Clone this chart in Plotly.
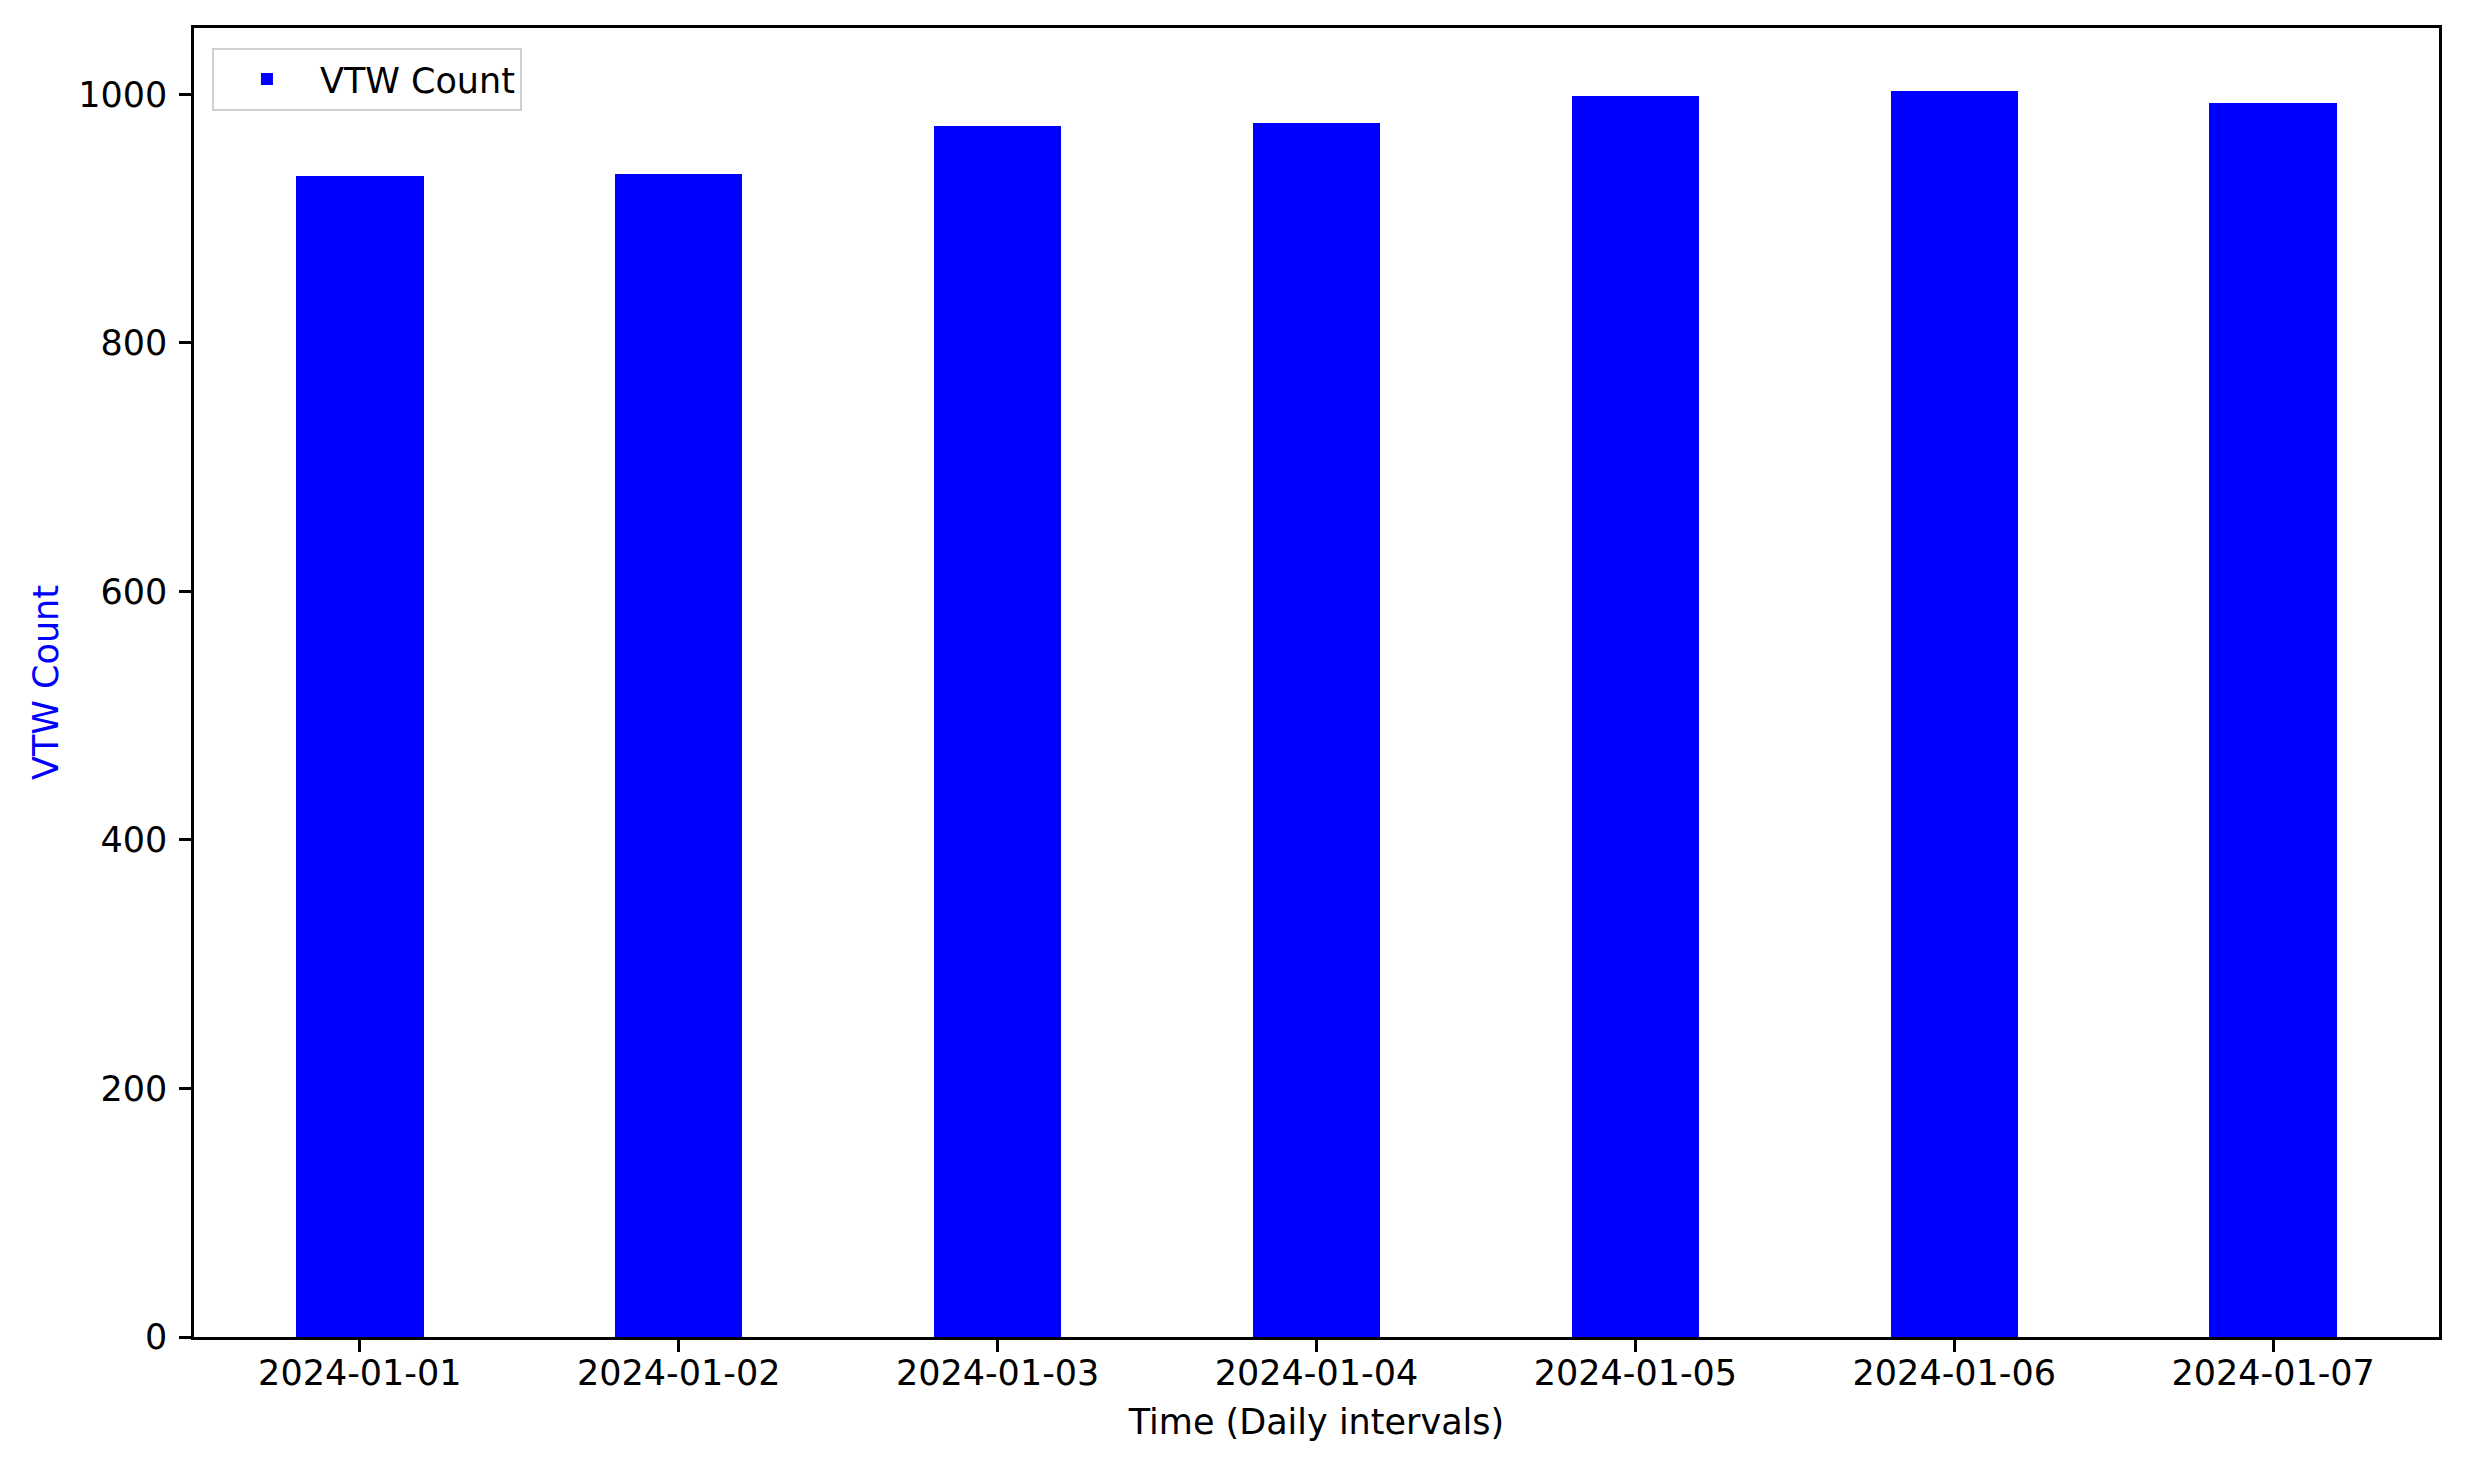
import plotly.graph_objects as go

dates = ["2024-01-01", "2024-01-02", "2024-01-03", "2024-01-04",
         "2024-01-05", "2024-01-06", "2024-01-07"]
vtw_count = [934, 936, 975, 977, 999, 1003, 993]
y_ticks = [0, 200, 400, 600, 800, 1000]

FONT = "DejaVu Sans"
FS = 35

fig = go.Figure()
fig.add_trace(go.Bar(
    x=dates, y=vtw_count, name="VTW Count",
    marker=dict(color="#0000ff", line=dict(width=0)),
    width=0.4, showlegend=True,
))

fig.update_layout(
    width=2472, height=1468,
    margin=dict(l=186, r=41, t=20, b=139),
    paper_bgcolor="white", plot_bgcolor="white",
    font=dict(family=FONT, size=FS, color="black"),
    showlegend=True,
    legend=dict(
        x=0.008, y=0.985, xanchor="left", yanchor="top",
        bgcolor="rgba(255,255,255,0.8)", bordercolor="#d0d0d0", borderwidth=2,
        font=dict(family=FONT, size=FS, color="black"),
        itemwidth=96,
    ),
    bargap=0,
)

fig.update_xaxes(
    type="category", range=[-0.52, 6.52],
    showline=True, linecolor="black", linewidth=2.5, mirror=True,
    ticks="outside", ticklen=12, tickwidth=2.5, tickcolor="black",
    showgrid=False, zeroline=False,
    ticklabelstandoff=-9,
    title=dict(text="Time (Daily intervals)", font=dict(family=FONT, size=FS, color="black"), standoff=18),
    tickfont=dict(family=FONT, size=FS, color="black"),
)
fig.update_yaxes(
    range=[0, 1053.5], tickvals=y_ticks, ticktext=[str(v) for v in y_ticks],
    showline=True, linecolor="black", linewidth=2.5, mirror=True,
    ticks="outside", ticklen=12, tickwidth=2.5, tickcolor="black",
    showgrid=False, zeroline=False,
    ticklabelstandoff=5,
    title=dict(text="VTW Count", font=dict(family=FONT, size=FS, color="#0000ff"), standoff=9),
    tickfont=dict(family=FONT, size=FS, color="black"),
)

fig.write_html("out.html")
